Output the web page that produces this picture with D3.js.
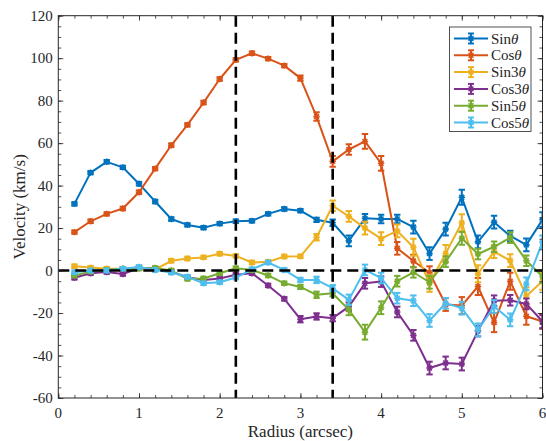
<!DOCTYPE html>
<html>
<head>
<meta charset="utf-8">
<script src="https://cdn.jsdelivr.net/npm/d3@7"></script>
<style>
  html, body { margin: 0; padding: 0; background: #fff; }
</style>
</head>
<body>
<svg id="chart" width="546" height="441"></svg>
<script>
// Radius samples (arcsec)
const radius = [0.2,0.4,0.6,0.8,1.0,1.2,1.4,1.6,1.8,2.0,2.2,2.4,2.6,2.8,3.0,3.2,3.4,3.6,3.8,4.0,4.2,4.4,4.6,4.8,5.0,5.2,5.4,5.6,5.8,6.0];

// Harmonic velocity terms (km/s)
const sin1 = [31.4,46.1,51.2,48.6,40.9,32.5,24.3,21.5,20.2,22.1,23.2,23.4,26.7,29.0,28.2,23.9,22.5,14.0,24.6,24.3,24.3,20.5,8.0,19.5,34.5,13.5,22.8,16.3,12.1,24.0];
const cos1 = [18.1,23.2,26.7,29.2,36.9,48.0,59.0,68.6,79.1,90.2,99.2,102.3,99.8,96.5,90.6,72.5,51.4,57.0,60.8,50.5,10.5,4.5,-1.0,-16.0,-16.5,-7.5,-24.5,-5.0,-21.5,-24.0];
const sin3 = [2.0,1.4,0.9,0.9,1.4,0.5,4.6,5.7,6.2,7.9,6.9,3.8,4.1,6.6,6.7,15.7,30.5,25.5,20.0,15.0,18.7,11.0,-6.0,8.0,22.5,-1.5,8.9,4.7,-12.0,-5.0];
const cos3 = [-3.4,-1.3,-0.7,-1.6,1.2,0.9,-0.5,-3.1,-4.4,-3.7,-2.0,-1.3,-7.0,-13.3,-22.9,-21.6,-22.4,-17.0,-6.0,-5.2,-19.5,-30.5,-45.9,-43.5,-44.0,-28.5,-14.2,-14.0,-15.7,-24.0];
const sin5 = [-2.3,-0.5,0.3,0.9,0.9,1.2,0.0,-3.9,-3.7,-1.3,1.1,0.3,-2.3,-6.0,-7.7,-11.4,-10.7,-18.5,-29.0,-17.5,-5.0,-0.8,-5.5,4.2,15.2,7.8,11.2,15.5,4.6,-2.8];
const cos5 = [-0.8,0.0,0.0,0.9,1.7,0.3,-0.9,-2.9,-6.0,-5.5,-3.3,0.6,3.8,0.3,-4.4,-4.4,-8.3,-13.8,0.3,-3.5,-13.0,-14.2,-23.5,-15.4,-17.7,-27.9,-16.9,-23.2,-6.3,13.5];

// One-sigma uncertainties (km/s)
const sin1Err = [0.8,0.8,0.8,0.8,0.8,0.8,0.8,0.8,0.8,0.8,0.8,0.8,0.8,0.8,0.8,1.0,1.5,2.5,2.0,2.0,2.0,3.0,3.0,3.0,3.5,3.0,3.0,2.5,3.0,3.5];
const cos1Err = [0.8,0.8,0.8,0.8,0.8,0.8,0.8,0.8,0.8,0.8,0.8,0.8,0.8,0.8,1.2,2.0,2.5,2.5,3.5,3.5,3.0,3.0,3.0,3.0,4.0,4.0,4.5,4.0,4.0,3.5];
const sin3Err = [0.8,0.8,0.8,0.8,0.8,0.8,0.8,0.8,0.8,0.8,0.8,0.8,0.8,0.8,0.8,1.5,2.5,2.5,3.0,3.0,3.0,4.0,4.0,4.0,4.0,4.0,3.0,3.0,4.0,4.0];
const cos3Err = [0.8,0.8,0.8,0.8,0.8,0.8,0.8,0.8,0.8,0.8,0.8,0.8,0.8,0.8,1.5,1.5,1.5,2.0,2.5,2.5,2.5,2.5,3.0,3.0,3.0,2.5,2.5,2.5,2.5,3.0];
const sin5Err = [0.8,0.8,0.8,0.8,0.8,0.8,0.8,0.8,0.8,0.8,0.8,0.8,0.8,0.8,1.0,1.5,1.5,2.5,3.5,3.0,2.5,2.5,3.0,2.5,3.0,2.5,2.5,2.5,2.5,3.0];
const cos5Err = [0.8,0.8,0.8,0.8,0.8,0.8,0.8,0.8,0.8,0.8,0.8,0.8,0.8,0.8,1.0,1.5,1.5,2.5,2.5,2.5,2.5,2.5,3.0,2.5,3.0,3.0,3.0,3.0,3.0,3.0];

const seriesNames = ["Sin", "Cos", "Sin3", "Cos3", "Sin5", "Cos5"];
const seriesColors = ["#0072BD", "#D95319", "#EDB120", "#7E2F8E", "#77AC30", "#4DBEEE"];
const seriesValues = [sin1, cos1, sin3, cos3, sin5, cos5];
const seriesErrors = [sin1Err, cos1Err, sin3Err, cos3Err, sin5Err, cos5Err];

// Reference marks
const vLines = [2.2, 3.4];
const hLines = [0];

const xTicks = [0,1,2,3,4,5,6];
const yTicks = [-60,-40,-20,0,20,40,60,80,100,120];

const FONT = "'Liberation Serif', 'Times New Roman', Times, 'DejaVu Serif', serif";
const textColor = "#262626";

const svg = d3.select("#chart");
const margin = { left: 58.3, right: 3.5, top: 15.7, bottom: 43 };
const W = 546, H = 441;

const x = d3.scaleLinear().domain([0, 6]).range([margin.left, W - margin.right]);
const y = d3.scaleLinear().domain([-60, 120]).range([H - margin.bottom, margin.top]);

const axisColor = "#262626";
const plot = svg.append("g");

// clip to axes box
svg.append("defs").append("clipPath").attr("id", "box")
  .append("rect")
  .attr("x", x(0)).attr("y", y(120))
  .attr("width", x(6) - x(0)).attr("height", y(-60) - y(120));

const data = plot.append("g").attr("clip-path", "url(#box)");

// series: line, error bars, markers
seriesValues.forEach((vals, si) => {
  const color = seriesColors[si];
  const errs = seriesErrors[si];
  const pts = radius.map((r, i) => ({ r, v: vals[i], e: errs[i] }));
  const g = data.append("g");

  g.append("path")
    .datum(pts)
    .attr("fill", "none")
    .attr("stroke", color)
    .attr("stroke-width", 2)
    .attr("stroke-linejoin", "round")
    .attr("d", d3.line().x(d => x(d.r)).y(d => y(d.v)));

  const eb = g.selectAll(".eb").data(pts).enter().append("g").attr("stroke", color).attr("stroke-width", 2);
  eb.append("line")
    .attr("x1", d => x(d.r)).attr("x2", d => x(d.r))
    .attr("y1", d => y(d.v - d.e)).attr("y2", d => y(d.v + d.e));
  eb.append("line")
    .attr("x1", d => x(d.r) - 3.2).attr("x2", d => x(d.r) + 3.2)
    .attr("y1", d => y(d.v - d.e)).attr("y2", d => y(d.v - d.e));
  eb.append("line")
    .attr("x1", d => x(d.r) - 3.2).attr("x2", d => x(d.r) + 3.2)
    .attr("y1", d => y(d.v + d.e)).attr("y2", d => y(d.v + d.e));

  // asterisk markers
  const s = 3.2, sd = 2.4;
  g.selectAll(".mk").data(pts).enter().append("path")
    .attr("stroke", color).attr("stroke-width", 1.6).attr("fill", "none")
    .attr("d", d => {
      const cx = x(d.r), cy = y(d.v);
      return `M${cx - s},${cy}H${cx + s}M${cx},${cy - s}V${cy + s}` +
             `M${cx - sd},${cy - sd}L${cx + sd},${cy + sd}M${cx - sd},${cy + sd}L${cx + sd},${cy - sd}`;
    });
});

// dashed reference lines
data.selectAll(".vl").data(vLines).enter().append("line")
  .attr("x1", d => x(d)).attr("x2", d => x(d))
  .attr("y1", y(120)).attr("y2", y(-60))
  .attr("stroke", "#000").attr("stroke-width", 2.6).attr("stroke-dasharray", "11,6");
data.selectAll(".hl").data(hLines).enter().append("line")
  .attr("x1", x(0)).attr("x2", x(6))
  .attr("y1", d => y(d)).attr("y2", d => y(d))
  .attr("stroke", "#000").attr("stroke-width", 2.6).attr("stroke-dasharray", "11,6");

// axes box
const axes = svg.append("g");
axes.append("rect")
  .attr("x", x(0)).attr("y", y(120))
  .attr("width", x(6) - x(0)).attr("height", y(-60) - y(120))
  .attr("fill", "none").attr("stroke", axisColor).attr("stroke-width", 1);

// major/minor ticks pointing inward on all four sides
const xMinor = d3.range(0, 6.0001, 0.2);
const yMinor = d3.range(-60, 120.001, 5);
function addAxis(axisGen, transform, ticks, size) {
  const g = axes.append("g").attr("transform", transform)
    .call(axisGen.tickValues(ticks).tickSize(size).tickFormat(""));
  g.select(".domain").remove();
  g.selectAll(".tick text").remove();
  g.selectAll(".tick line").attr("stroke", axisColor).attr("stroke-width", 0.8);
  return g;
}
const bottomY = y(-60), topY = y(120), leftX = x(0), rightX = x(6);
addAxis(d3.axisBottom(x), `translate(0,${bottomY})`, xMinor, -3);
addAxis(d3.axisBottom(x), `translate(0,${bottomY})`, xTicks, -5);
addAxis(d3.axisTop(x), `translate(0,${topY})`, xMinor, -3);
addAxis(d3.axisTop(x), `translate(0,${topY})`, xTicks, -5);
addAxis(d3.axisLeft(y), `translate(${leftX},0)`, yMinor, -3);
addAxis(d3.axisLeft(y), `translate(${leftX},0)`, yTicks, -5);
addAxis(d3.axisRight(y), `translate(${rightX},0)`, yMinor, -3);
addAxis(d3.axisRight(y), `translate(${rightX},0)`, yTicks, -5);

// serif text helper
function serifText(parent, str, size, anchor) {
  return parent.append("text")
    .attr("font-size", size)
    .attr("font-family", FONT)
    .attr("fill", textColor)
    .attr("text-anchor", anchor)
    .text(str);
}

// tick labels
const labels = svg.append("g");
xTicks.forEach(v => {
  serifText(labels, String(v), 15, "middle").attr("x", x(v)).attr("y", bottomY + 20);
});
yTicks.forEach(v => {
  serifText(labels, String(v), 15, "end").attr("x", leftX - 5.5).attr("y", y(v) + 5);
});

// axis titles
serifText(labels, "Radius (arcsec)", 17, "middle")
  .attr("x", (leftX + rightX) / 2).attr("y", 437);
serifText(labels, "Velocity (km/s)", 17, "middle")
  .attr("transform", `translate(24.5,${(topY + bottomY) / 2}) rotate(-90)`);

// legend
const leg = svg.append("g");
leg.append("rect")
  .attr("x", 449.5).attr("y", 27).attr("width", 81.5).attr("height", 104.5)
  .attr("fill", "#fff").attr("stroke", axisColor).attr("stroke-width", 0.8);
seriesNames.forEach((name, i) => {
  const cy = 38.5 + i * 16.8;
  const c = seriesColors[i];
  const row = leg.append("g").attr("stroke", c).attr("stroke-width", 2);
  row.append("line").attr("x1", 454).attr("x2", 488).attr("y1", cy).attr("y2", cy);
  row.append("line").attr("x1", 471).attr("x2", 471).attr("y1", cy - 5).attr("y2", cy + 5);
  row.append("line").attr("x1", 468).attr("x2", 474).attr("y1", cy - 5).attr("y2", cy - 5);
  row.append("line").attr("x1", 468).attr("x2", 474).attr("y1", cy + 5).attr("y2", cy + 5);
  const s = 3.2, sd = 2.4;
  row.append("path").attr("stroke-width", 1.6).attr("fill", "none")
    .attr("d", `M${471 - s},${cy}H${471 + s}M471,${cy - s}V${cy + s}M${471 - sd},${cy - sd}L${471 + sd},${cy + sd}M${471 - sd},${cy + sd}L${471 + sd},${cy - sd}`);
  const t = leg.append("text").attr("x", 491).attr("y", cy + 5).attr("font-size", 15)
    .attr("font-family", FONT).attr("fill", textColor);
  t.append("tspan").text(name);
  t.append("tspan").attr("font-style", "italic").text("θ");
});
</script>
</body>
</html>
